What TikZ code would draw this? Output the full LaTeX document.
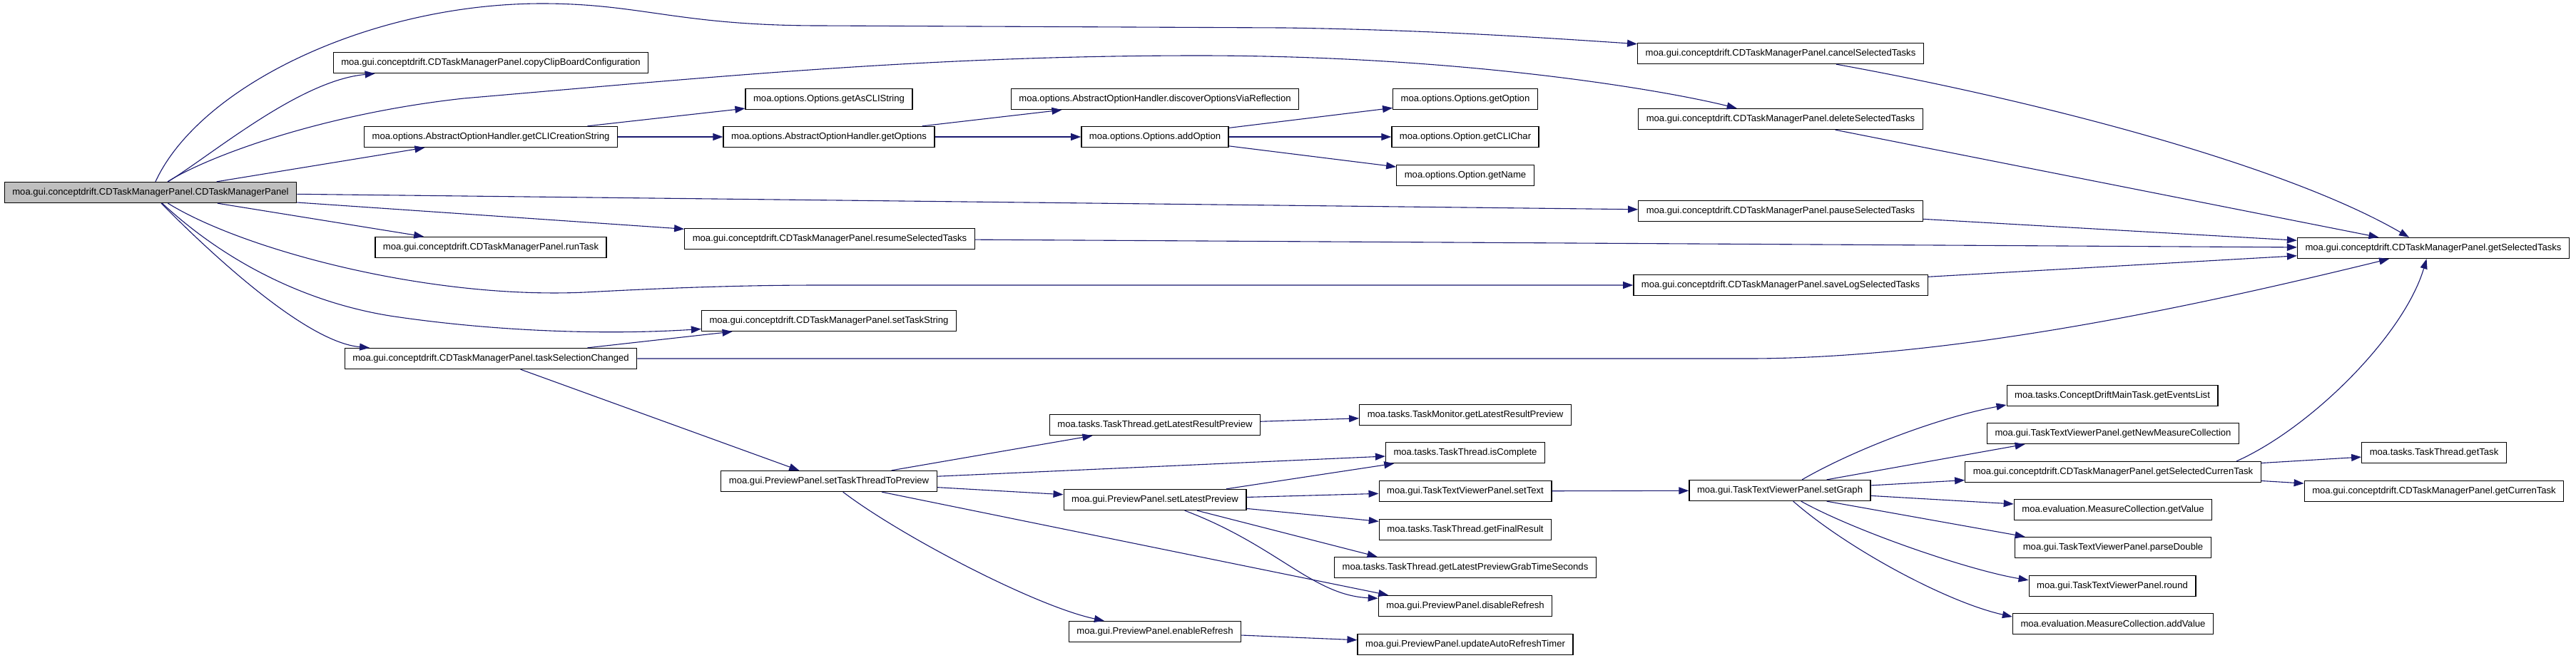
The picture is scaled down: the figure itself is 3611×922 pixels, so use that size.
\documentclass[tikz,border=0pt]{standalone}
\usepackage{fontspec}
\setmainfont{Liberation Sans}
\usetikzlibrary{arrows.meta}
\definecolor{callblue}{HTML}{191970}
\definecolor{rootgray}{HTML}{BFBFBF}

\begin{document}
\begin{tikzpicture}[
    x=1pt, y=-1pt,
    >={Triangle[length=14pt,width=10pt]},
    fn_box/.style={draw=black, line width=1.3pt, fill=white, inner xsep=11pt, inner ysep=0pt,
        minimum height=29pt, font=\fontsize{13.1}{15}\selectfont},
    root_box/.style={fn_box, fill=rootgray},
    call/.style={->, color=callblue, line width=1.1pt}
]
    \useasboundingbox (0,0) rectangle (3611,922);

    % caller
    \node[root_box] (ctor) at (211,270) {moa.gui.conceptdrift.CDTaskManagerPanel.CDTaskManagerPanel};

    % first level
    \node[fn_box] (copyClip) at (688,88) {moa.gui.conceptdrift.CDTaskManagerPanel.copyClipBoardConfiguration};
    \node[fn_box] (cliString) at (688,192) {moa.options.AbstractOptionHandler.getCLICreationString};
    \node[fn_box] (runTask) at (688,347) {moa.gui.conceptdrift.CDTaskManagerPanel.runTask};
    \node[fn_box] (taskSel) at (688,503) {moa.gui.conceptdrift.CDTaskManagerPanel.taskSelectionChanged};
    \node[fn_box] (asCli) at (1162,139) {moa.options.Options.getAsCLIString};
    \node[fn_box] (getOpts) at (1162,192) {moa.options.AbstractOptionHandler.getOptions};
    \node[fn_box] (resume) at (1163,335) {moa.gui.conceptdrift.CDTaskManagerPanel.resumeSelectedTasks};
    \node[fn_box] (setTaskStr) at (1162,450) {moa.gui.conceptdrift.CDTaskManagerPanel.setTaskString};
    \node[fn_box] (toPreview) at (1162,675) {moa.gui.PreviewPanel.setTaskThreadToPreview};

    \node[fn_box] (discover) at (1619,139) {moa.options.AbstractOptionHandler.discoverOptionsViaReflection};
    \node[fn_box] (addOpt) at (1619,192) {moa.options.Options.addOption};
    \node[fn_box] (threadPreview) at (1619,596) {moa.tasks.TaskThread.getLatestResultPreview};
    \node[fn_box] (latestPreview) at (1619,701) {moa.gui.PreviewPanel.setLatestPreview};
    \node[fn_box] (enableRef) at (1619,886) {moa.gui.PreviewPanel.enableRefresh};

    \node[fn_box] (getOpt) at (2054,139) {moa.options.Options.getOption};
    \node[fn_box] (cliChar) at (2054,192) {moa.options.Option.getCLIChar};
    \node[fn_box] (optName) at (2054,246) {moa.options.Option.getName};
    \node[fn_box] (monitorPreview) at (2054,582) {moa.tasks.TaskMonitor.getLatestResultPreview};
    \node[fn_box] (isComplete) at (2054,635) {moa.tasks.TaskThread.isComplete};
    \node[fn_box] (setText) at (2054,689) {moa.gui.TaskTextViewerPanel.setText};
    \node[fn_box] (finalResult) at (2054,743) {moa.tasks.TaskThread.getFinalResult};
    \node[fn_box] (grabTime) at (2054,796) {moa.tasks.TaskThread.getLatestPreviewGrabTimeSeconds};
    \node[fn_box] (disableRef) at (2054,850) {moa.gui.PreviewPanel.disableRefresh};
    \node[fn_box] (autoTimer) at (2054,904) {moa.gui.PreviewPanel.updateAutoRefreshTimer};

    \node[fn_box] (cancel) at (2496,75) {moa.gui.conceptdrift.CDTaskManagerPanel.cancelSelectedTasks};
    \node[fn_box] (delete) at (2496,167) {moa.gui.conceptdrift.CDTaskManagerPanel.deleteSelectedTasks};
    \node[fn_box] (pause) at (2496,296) {moa.gui.conceptdrift.CDTaskManagerPanel.pauseSelectedTasks};
    \node[fn_box] (saveLog) at (2496,400) {moa.gui.conceptdrift.CDTaskManagerPanel.saveLogSelectedTasks};
    \node[fn_box] (setGraph) at (2495,688) {moa.gui.TaskTextViewerPanel.setGraph};

    \node[fn_box] (eventsList) at (2961,555) {moa.tasks.ConceptDriftMainTask.getEventsList};
    \node[fn_box] (newMeasure) at (2962,608) {moa.gui.TaskTextViewerPanel.getNewMeasureCollection};
    \node[fn_box] (selCurren) at (2962,662) {moa.gui.conceptdrift.CDTaskManagerPanel.getSelectedCurrenTask};
    \node[fn_box] (getValue) at (2962,715) {moa.evaluation.MeasureCollection.getValue};
    \node[fn_box] (parseDouble) at (2962,768) {moa.gui.TaskTextViewerPanel.parseDouble};
    \node[fn_box] (round) at (2961,822) {moa.gui.TaskTextViewerPanel.round};
    \node[fn_box] (addValue) at (2962,875) {moa.evaluation.MeasureCollection.addValue};

    \node[fn_box] (selTasks) at (3411,348) {moa.gui.conceptdrift.CDTaskManagerPanel.getSelectedTasks};
    \node[fn_box] (getTask) at (3412,635) {moa.tasks.TaskThread.getTask};
    \node[fn_box] (currenTask) at (3412,689) {moa.gui.conceptdrift.CDTaskManagerPanel.getCurrenTask};

    % calls from the constructor
    \draw[call] (ctor) .. controls (280,120) and (520,5) .. (760,5)
        .. controls (900,5) and (950,36) .. (1150,36) -- (1800,39)
        .. controls (2000,42) and (2150,52) .. (cancel);
    \draw[call] (ctor) .. controls (300,215) and (420,113) .. (copyClip);
    \draw[call] (ctor) .. controls (290,220) and (450,160) .. (650,138)
        .. controls (1000,108) and (1300,78) .. (1680,78)
        .. controls (2050,78) and (2330,126) .. (delete);
    \draw[call] (ctor) -- (cliString);
    \draw[call] (ctor) -- (pause);
    \draw[call] (ctor) -- (resume);
    \draw[call] (ctor) -- (runTask);
    \draw[call] (ctor) .. controls (340,350) and (600,420) .. (820,410)
        .. controls (950,403) and (1050,400) .. (1150,400) -- (saveLog);
    \draw[call] (ctor) .. controls (330,380) and (450,430) .. (560,445)
        .. controls (700,465) and (850,470) .. (setTaskStr);
    \draw[call] (ctor) .. controls (300,360) and (430,480) .. (taskSel);

    % option handling
    \draw[call] (cliString) -- (asCli);
    \draw[call] (cliString) -- (getOpts);
    \draw[call] (getOpts) -- (discover);
    \draw[call] (getOpts) -- (addOpt);
    \draw[call] (addOpt) -- (getOpt);
    \draw[call] (addOpt) -- (cliChar);
    \draw[call] (addOpt) -- (optName);

    % into getSelectedTasks
    \draw[call] (cancel.349) .. controls (2850,140) and (3200,230) .. (selTasks.156);
    \draw[call] (delete) -- (selTasks);
    \draw[call] (pause) -- (selTasks);
    \draw[call] (resume) -- (selTasks);
    \draw[call] (saveLog) -- (selTasks);
    \draw[call] (taskSel) -- (2450,503) .. controls (2750,503) and (3104,423) .. (selTasks);
    \draw[call] (selCurren.5) .. controls (3240,600) and (3370,470) .. (selTasks.238);

    % task selection and preview
    \draw[call] (taskSel) -- (setTaskStr);
    \draw[call] (taskSel) -- (toPreview);
    \draw[call] (toPreview) -- (threadPreview);
    \draw[call] (toPreview) -- (isComplete);
    \draw[call] (toPreview) -- (latestPreview);
    \draw[call] (toPreview) -- (disableRef.172);
    \draw[call] (toPreview) .. controls (1260,750) and (1450,850) .. (enableRef);
    \draw[call] (threadPreview) -- (monitorPreview);
    \draw[call] (latestPreview) -- (isComplete);
    \draw[call] (latestPreview) -- (setText);
    \draw[call] (latestPreview) -- (finalResult);
    \draw[call] (latestPreview) -- (grabTime.173);
    \draw[call] (latestPreview.340) .. controls (1790,765) and (1840,835) .. (disableRef.175);
    \draw[call] (enableRef) -- (autoTimer);
    \draw[call] (setText) -- (setGraph);

    % graph update
    \draw[call] (setGraph.26) .. controls (2600,630) and (2720,585) .. (eventsList.185);
    \draw[call] (setGraph.13) -- (newMeasure.187);
    \draw[call] (setGraph) -- (selCurren);
    \draw[call] (setGraph) -- (getValue);
    \draw[call] (setGraph.-13) -- (parseDouble.173);
    \draw[call] (setGraph.333) .. controls (2600,745) and (2760,800) .. (round.176);
    \draw[call] (setGraph.321) .. controls (2590,770) and (2730,845) .. (addValue.176);
    \draw[call] (selCurren) -- (getTask);
    \draw[call] (selCurren) -- (currenTask);

\end{tikzpicture}
\end{document}
